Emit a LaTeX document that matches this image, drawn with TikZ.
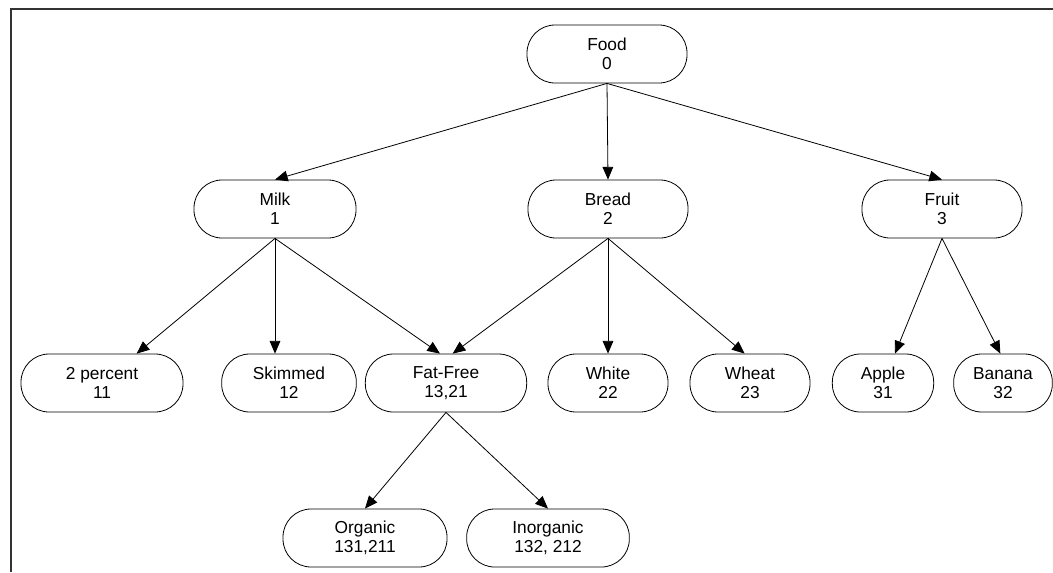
\documentclass[tikz,border=0pt]{standalone}
\usepackage{fontspec}
\setmainfont{Liberation Sans}
\usetikzlibrary{arrows.meta}

\begin{document}
\begin{tikzpicture}[x=0.75pt, y=-0.75pt,
		box/.style={draw, rounded corners=21pt, minimum height=43.5pt, align=center, line width=0.6pt, font=\fontsize{13}{14.5}\selectfont},
		link/.style={->, >={Triangle[length=9.5pt, width=8pt]}, line width=0.6pt}]
				\useasboundingbox (0,0) rectangle (1053,572);
				\draw[line width=1.7pt, black!80] (11,572) -- (11,9) -- (1053,9);
				\node[box, minimum width=120pt] (food)at(607, 54) {Food\\0};
				\node[box, minimum width=121.5pt] (milk)at(275, 209) {Milk\\1};
				\node[box, minimum width=120pt] (bread)at(608, 209) {Bread\\2};
				\node[box, minimum width=120pt] (fruit)at(942, 209) {Fruit\\3};
				\node[box, minimum width=121.5pt] (pct)at(102, 383) {2 percent\\11};
				\node[box, minimum width=101pt] (skim)at(289, 383) {Skimmed\\12};
				\node[box, minimum width=121pt] (fatfree)at(446, 383) {Fat-Free\\13,21};
				\node[box, minimum width=90pt] (white)at(608, 383) {White\\22};
				\node[box, minimum width=90pt] (wheat)at(750, 383) {Wheat\\23};
				\node[box, minimum width=76pt] (apple)at(883, 383) {Apple\\31};
				\node[box, minimum width=74pt] (banana)at(1003, 383) {Banana\\32};
				\node[box, minimum width=123pt] (organic)at(365, 538) {Organic\\131,211};
				\node[box, minimum width=122pt] (inorganic)at(548, 538) {Inorganic\\132, 212};
				\draw[link] (food.south) -- (milk.north);
				\draw[link] (food.south) -- (bread.north);
				\draw[link] (food.south) -- (fruit.north);
				\draw[link] (milk.south) -- ([xshift=26pt]pct.north);
				\draw[link] (milk.south) -- ([xshift=-10.5pt]skim.north);
				\draw[link] (milk.south) -- ([xshift=-4.5pt]fatfree.north);
				\draw[link] (bread.south) -- ([xshift=5pt]fatfree.north);
				\draw[link] (bread.south) -- (white.north);
				\draw[link] (bread.south) -- ([xshift=-4pt]wheat.north);
				\draw[link] (fruit.south) -- ([xshift=9pt]apple.north);
				\draw[link] (fruit.south) -- ([xshift=-2pt]banana.north);
				\draw[link] (fatfree.south) -- (organic.north);
				\draw[link] (fatfree.south) -- (inorganic.north);
			\end{tikzpicture}
\end{document}
